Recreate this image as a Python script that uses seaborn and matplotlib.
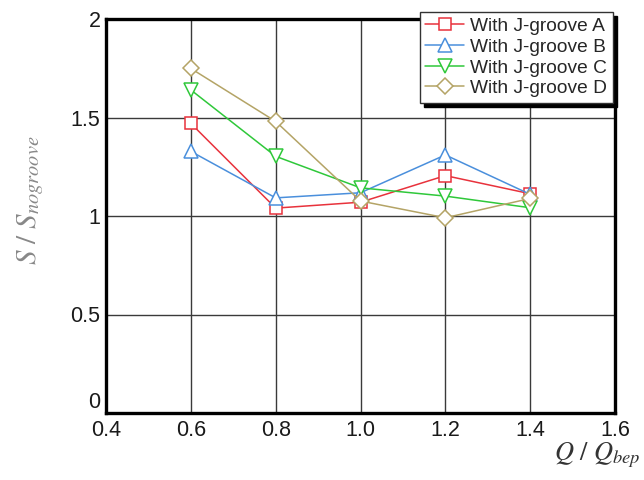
import matplotlib
matplotlib.use("Agg")
import matplotlib.pyplot as plt
import seaborn as sns
import pandas as pd

# Flow rate ratio and normalized S for each J-groove configuration
flow_ratio = [0.6, 0.8, 1.0, 1.2, 1.4]
groove_a = [1.47, 1.04, 1.07, 1.205, 1.113]
groove_b = [1.328, 1.092, 1.118, 1.31, 1.11]
groove_c = [1.64, 1.303, 1.143, 1.101, 1.042]
groove_d = [1.749, 1.48, 1.076, 0.991, 1.089]

series_labels = ["With J-groove A", "With J-groove B", "With J-groove C", "With J-groove D"]
series_values = [groove_a, groove_b, groove_c, groove_d]
series_colors = ["#e8323c", "#4a8fdc", "#2fc83a", "#b4a466"]
series_markers = ["s", "^", "v", "D"]
series_sizes = [9, 9.5, 9.5, 8]

x_ticks = [0.4, 0.6, 0.8, 1.0, 1.2, 1.4, 1.6]
x_tick_labels = ["0.4", "0.6", "0.8", "1.0", "1.2", "1.4", "1.6"]
y_ticks = [0, 0.5, 1, 1.5, 2]
y_tick_labels = ["0", "0.5", "1", "1.5", "2"]

sns.set_style("white")
plt.rcParams["font.family"] = ["Liberation Sans", "DejaVu Sans"]
plt.rcParams["mathtext.fontset"] = "stix"

fig = plt.figure(figsize=(6.44, 4.80), dpi=100)
ax = fig.add_axes([106 / 644, 1 - 413 / 480, (615 - 106) / 644, (413 - 19) / 480])

frames = []
for label, vals in zip(series_labels, series_values):
    frames.append(pd.DataFrame({"Q": flow_ratio, "S": vals, "series": label}))
df = pd.concat(frames, ignore_index=True)

for label, color, marker, ms in zip(series_labels, series_colors, series_markers, series_sizes):
    sub = df[df["series"] == label]
    sns.lineplot(data=sub, x="Q", y="S", ax=ax, color=color, marker=marker,
                 markersize=ms, mec=color, mfc="white", mew=1.1, linewidth=1.1,
                 label=label, zorder=3)

ax.set_xlim(0.4, 1.6)
ax.set_ylim(0, 2)
ax.set_xticks(x_ticks)
ax.set_xticklabels(x_tick_labels)
ax.set_yticks(y_ticks)
ax.set_yticklabels(y_tick_labels)
ax.tick_params(axis="both", length=0, labelsize=15.5, colors="#1a1a1a")
ax.tick_params(axis="x", pad=5)
ax.tick_params(axis="y", pad=4)
# lift the zero label so it clears the 0.4 label below it
ax.get_yticklabels()[0].set_va("bottom")

ax.grid(True, color="#3a3a3a", linewidth=1.0)
ax.set_axisbelow(True)
for spine in ax.spines.values():
    spine.set_visible(True)
    spine.set_color("black")
    spine.set_linewidth(2.4)

ax.set_xlabel(r"$Q\ /\ Q_{bep}$", fontsize=19, color="#333333")
ax.xaxis.label.set_va("center")
ax.xaxis.set_label_coords(0.965, -0.107)
ax.set_ylabel(r"$S\ /\ S_{nogroove}$", fontsize=21, color="#888888")
ax.yaxis.label.set_va("center")
ax.yaxis.set_label_coords(-0.149, 0.54)

leg = ax.legend(loc="upper right", bbox_to_anchor=(613 / 644, 1 - 12 / 480),
                bbox_transform=fig.transFigure, borderaxespad=0, frameon=True,
                fancybox=False, framealpha=1, edgecolor="#333333",
                shadow={"color": "black", "alpha": 1, "ox": 3, "oy": -3},
                fontsize=13.8, handlelength=2.0, handletextpad=0.35,
                labelspacing=0.17, borderpad=0.3)
leg.get_frame().set_linewidth(1.0)
leg.set_zorder(10)

fig.savefig("out.png", dpi=100, facecolor="white")
